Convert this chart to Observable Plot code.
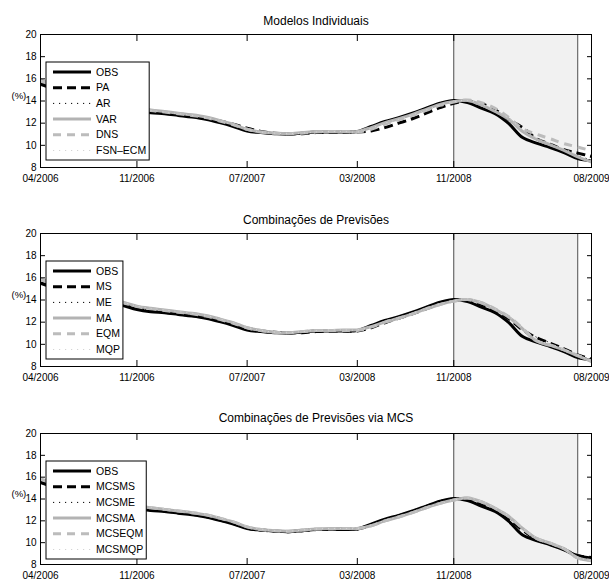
<!DOCTYPE html>
<html>
<head>
<meta charset="utf-8">
<script src="https://cdn.jsdelivr.net/npm/d3@7"></script>
<script src="https://cdn.jsdelivr.net/npm/@observablehq/plot@0.6"></script>
<style>
  body { margin: 0; background: white; }
  #chart svg { display: block; }
</style>
</head>
<body>
<div id="chart"></div>
<script>
// ---- data (monthly index t: 0 = 04/2006 ... 40 = 08/2009) ----
const tValues = d3.range(0, 41);
const xTickPos = [0, 7, 15, 23, 30, 40];
const xTickLabels = ["04/2006", "11/2006", "07/2007", "03/2008", "11/2008", "08/2009"];
const yTicks = [8, 10, 12, 14, 16, 18, 20];
const forecastWindow = [{start: 30, end: 39}];

const titles = ["Modelos Individuais", "Combinações de Previsões", "Combinações de Previsões via MCS"];

const OBS = [15.5,15.1,14.7,14.4,14.1,13.8,13.5,13.15,12.95,12.85,12.7,12.55,12.35,12.05,11.7,11.3,11.15,11.05,11.0,11.1,11.2,11.2,11.2,11.25,11.7,12.15,12.5,12.9,13.35,13.8,14.05,13.85,13.35,12.85,11.95,10.7,10.2,9.8,9.35,8.8,8.6];

// panel 1: individual models
const names1 = ["OBS", "PA", "AR", "VAR", "DNS", "FSN–ECM"];
const PA  = [15.6,15.3,14.9,14.55,14.25,13.95,13.65,13.3,13.05,12.9,12.8,12.65,12.5,12.2,11.9,11.55,11.25,11.1,11.05,11.05,11.15,11.2,11.2,11.2,11.3,11.6,12.0,12.4,12.9,13.4,13.8,14.0,13.75,13.2,12.3,11.6,10.6,10.1,9.6,9.3,9.0];
const AR  = [15.6,15.15,14.75,14.45,14.15,13.85,13.55,13.2,13.0,12.9,12.75,12.6,12.4,12.1,11.75,11.35,11.15,11.05,11.0,11.1,11.2,11.2,11.2,11.25,11.6,12.1,12.45,12.85,13.3,13.75,14.0,13.95,13.5,12.95,12.2,11.2,10.5,10.05,9.6,9.05,8.7];
const VAR = [15.9,15.45,15.0,14.65,14.35,14.05,13.75,13.4,13.2,13.05,12.9,12.75,12.55,12.25,11.9,11.45,11.2,11.1,11.05,11.15,11.25,11.25,11.25,11.25,11.6,12.05,12.4,12.8,13.25,13.7,13.95,14.05,13.65,13.05,12.35,11.25,10.55,10.05,9.55,8.95,8.5];
const DNS = [15.8,15.4,14.95,14.6,14.3,14.0,13.7,13.35,13.15,13.0,12.85,12.7,12.5,12.2,11.85,11.45,11.2,11.1,11.05,11.1,11.2,11.25,11.25,11.2,11.45,11.9,12.3,12.7,13.15,13.6,13.9,14.1,13.85,13.35,12.5,11.5,11.0,10.6,10.15,9.85,9.5];
const FSN = [15.85,15.4,15.0,14.6,14.3,14.0,13.7,13.35,13.15,13.0,12.85,12.7,12.5,12.2,11.85,11.45,11.2,11.1,11.05,11.1,11.2,11.25,11.25,11.2,11.55,12.0,12.35,12.75,13.2,13.65,13.95,14.05,13.7,13.15,12.45,11.4,10.7,10.2,9.7,9.15,8.7];

// panel 2: forecast combinations
const names2 = ["OBS", "MS", "ME", "MA", "EQM", "MQP"];
const MS  = [15.55,15.2,14.8,14.5,14.2,13.9,13.6,13.25,13.05,12.9,12.75,12.6,12.45,12.15,11.8,11.45,11.2,11.1,11.05,11.05,11.15,11.2,11.2,11.2,11.5,11.95,12.35,12.75,13.2,13.65,13.95,14.0,13.6,13.05,12.3,11.3,10.6,10.1,9.6,9.05,8.65];
const ME  = [15.6,15.2,14.8,14.5,14.2,13.9,13.6,13.25,13.05,12.95,12.8,12.65,12.45,12.15,11.8,11.4,11.2,11.1,11.05,11.1,11.2,11.2,11.25,11.25,11.55,12.0,12.35,12.75,13.2,13.65,13.95,14.05,13.65,13.1,12.4,11.4,10.65,10.15,9.65,9.05,8.6];
const MA  = [15.9,15.45,15.0,14.7,14.4,14.1,13.8,13.45,13.25,13.1,12.95,12.8,12.6,12.3,11.95,11.5,11.25,11.1,11.05,11.15,11.25,11.25,11.3,11.3,11.6,12.0,12.35,12.75,13.2,13.6,13.9,14.05,13.75,13.15,12.45,11.4,10.3,9.9,9.5,8.95,8.45];
const EQM = [15.85,15.4,15.0,14.65,14.35,14.05,13.75,13.4,13.2,13.05,12.9,12.75,12.55,12.25,11.9,11.5,11.25,11.1,11.05,11.15,11.25,11.25,11.25,11.25,11.55,12.0,12.35,12.75,13.2,13.6,13.9,14.05,13.75,13.2,12.5,11.45,10.35,9.95,9.5,9.0,8.5];
const MQP = [15.9,15.45,15.05,14.7,14.4,14.1,13.8,13.45,13.25,13.1,12.95,12.8,12.6,12.3,11.95,11.5,11.25,11.1,11.05,11.15,11.25,11.3,11.3,11.3,11.6,12.05,12.4,12.8,13.25,13.65,13.95,14.1,13.8,13.2,12.5,11.45,10.4,10.0,9.55,9.05,8.5];

// panel 3: combinations via MCS
const names3 = ["OBS", "MCSMS", "MCSME", "MCSMA", "MCSEQM", "MCSMQP"];
const MCSMS  = [15.55,15.2,14.8,14.5,14.2,13.9,13.6,13.25,13.0,12.9,12.75,12.6,12.4,12.1,11.75,11.35,11.15,11.05,11.0,11.1,11.2,11.2,11.25,11.25,11.6,12.05,12.45,12.85,13.3,13.75,14.0,14.0,13.55,13.0,12.2,11.15,10.3,9.85,9.4,8.8,8.65];
const MCSME  = [15.6,15.2,14.8,14.5,14.2,13.9,13.6,13.25,13.05,12.9,12.75,12.6,12.45,12.15,11.8,11.4,11.15,11.05,11.0,11.1,11.2,11.2,11.25,11.25,11.55,12.0,12.4,12.8,13.25,13.7,13.95,14.05,13.6,13.05,12.25,11.2,10.35,9.9,9.45,8.85,8.6];
const MCSMA  = [15.85,15.4,15.0,14.65,14.35,14.05,13.75,13.4,13.2,13.05,12.9,12.75,12.55,12.25,11.9,11.45,11.2,11.1,11.05,11.15,11.25,11.3,11.3,11.3,11.55,12.0,12.35,12.75,13.2,13.6,13.9,14.1,13.75,13.15,12.4,11.3,10.4,9.95,9.45,8.6,8.35];
const MCSEQM = [15.8,15.4,15.0,14.65,14.35,14.05,13.75,13.4,13.2,13.05,12.9,12.75,12.55,12.25,11.9,11.45,11.2,11.1,11.05,11.15,11.25,11.25,11.3,11.3,11.55,12.0,12.35,12.75,13.2,13.6,13.9,14.1,13.75,13.15,12.4,11.3,10.4,9.95,9.45,8.6,8.35];
const MCSMQP = [15.9,15.45,15.05,14.7,14.4,14.1,13.8,13.45,13.25,13.1,12.95,12.8,12.6,12.3,11.95,11.5,11.25,11.1,11.05,11.15,11.25,11.3,11.3,11.3,11.6,12.05,12.4,12.8,13.2,13.6,13.9,14.1,13.8,13.2,12.45,11.35,10.45,10.0,9.5,8.65,8.35];

// ---- line styles (legend order) ----
const styles = [
  {stroke: "#000000", strokeWidth: 3, dash: null},
  {stroke: "#000000", strokeWidth: 3, dash: "9,5"},
  {stroke: "#000000", strokeWidth: 1, dash: "1.2,4.8"},
  {stroke: "#b3b3b3", strokeWidth: 3, dash: null},
  {stroke: "#bcbcbc", strokeWidth: 3, dash: "8,6"},
  {stroke: "#d4d4d4", strokeWidth: 1, dash: "1.2,4.8"}
];

const panels = [
  {title: titles[0], names: names1, series: [OBS, PA, AR, VAR, DNS, FSN], height: 200, mt: 34, mb: 33, tdy: -13},
  {title: titles[1], names: names2, series: [OBS, MS, ME, MA, EQM, MQP], height: 200, mt: 33, mb: 34, tdy: -13},
  {title: titles[2], names: names3, series: [OBS, MCSMS, MCSME, MCSMA, MCSEQM, MCSMQP], height: 183, mt: 33, mb: 19, tdy: -15}
];

const font = "'Liberation Sans', Arial, Helvetica, sans-serif";
const container = document.getElementById("chart");

for (const p of panels) {
  const lines = p.series.map((arr, k) => Plot.line(
    tValues.map((t, i) => ({t, v: arr[i]})),
    {
      x: "t", y: "v",
      stroke: styles[k].stroke,
      strokeWidth: styles[k].strokeWidth,
      strokeDasharray: styles[k].dash,
      strokeLinecap: "butt",
      strokeLinejoin: "round",
      curve: "catmull-rom"
    }
  ));

  const svg = Plot.plot({
    width: 609,
    height: p.height,
    marginLeft: 40,
    marginRight: 18,
    marginTop: p.mt,
    marginBottom: p.mb,
    style: {fontFamily: font, fontSize: "10px", background: "white", color: "black", overflow: "visible"},
    x: {domain: [0, 40], label: null},
    y: {domain: [8, 20], label: null},
    marks: [
      Plot.rect(forecastWindow, {x1: "start", x2: "end", fill: "#f1f1f1"}),
      Plot.ruleX(forecastWindow.flatMap(d => [d.start, d.end]), {stroke: "#3a3a3a", strokeWidth: 0.9}),
      ...lines,
      Plot.frame({stroke: "black", strokeWidth: 1}),
      Plot.axisX({ticks: xTickPos, tickFormat: d => xTickLabels[xTickPos.indexOf(d)], tickSize: 0, tickPadding: 7, label: null, fontSize: 10}),
      Plot.axisX({ticks: xTickPos, anchor: "bottom", tickSize: -6, tickFormat: () => "", label: null}),
      Plot.axisX({ticks: xTickPos, anchor: "top", tickSize: -6, tickFormat: () => "", label: null}),
      Plot.axisY({ticks: yTicks, tickSize: 0, tickPadding: 4, label: null, fontSize: 10}),
      Plot.axisY({ticks: yTicks, anchor: "left", tickSize: -5, tickFormat: () => "", label: null}),
      Plot.axisY({ticks: yTicks, anchor: "right", tickSize: -5, tickFormat: () => "", label: null}),
      Plot.text([p.title], {frameAnchor: "top", dy: p.tdy, fontSize: 12, lineAnchor: "middle"}),
      Plot.text(["(%)"], {frameAnchor: "left", textAnchor: "start", dx: -29, dy: -5, fontSize: 9.5})
    ]
  });
  container.appendChild(svg);

  // legend box inside the plot area (upper-left)
  const g = d3.select(svg).append("g")
    .attr("font-family", font).attr("font-size", 10.5).attr("text-anchor", "start");
  const boxX = 46, boxY = p.mt + 28, rowH = 15.7, firstRow = p.mt + 38;
  const lineX1 = 53, lineX2 = 91, textX = 96;
  const rect = g.append("rect").attr("x", boxX).attr("y", boxY).attr("height", 98)
    .attr("fill", "white").attr("stroke", "black").attr("stroke-width", 1);
  let maxW = 0;
  p.names.forEach((name, k) => {
    const y = firstRow + k * rowH;
    const st = styles[k];
    g.append("line").attr("x1", lineX1).attr("x2", lineX2).attr("y1", y).attr("y2", y)
      .attr("stroke", st.stroke).attr("stroke-width", st.strokeWidth)
      .attr("stroke-dasharray", st.dash);
    const txt = g.append("text").attr("x", textX).attr("y", y).attr("dy", "0.35em")
      .attr("text-anchor", "start").attr("fill", "black").text(name);
    maxW = Math.max(maxW, txt.node().getComputedTextLength());
  });
  rect.attr("width", textX + maxW + 3 - boxX);
}
</script>
</body>
</html>
